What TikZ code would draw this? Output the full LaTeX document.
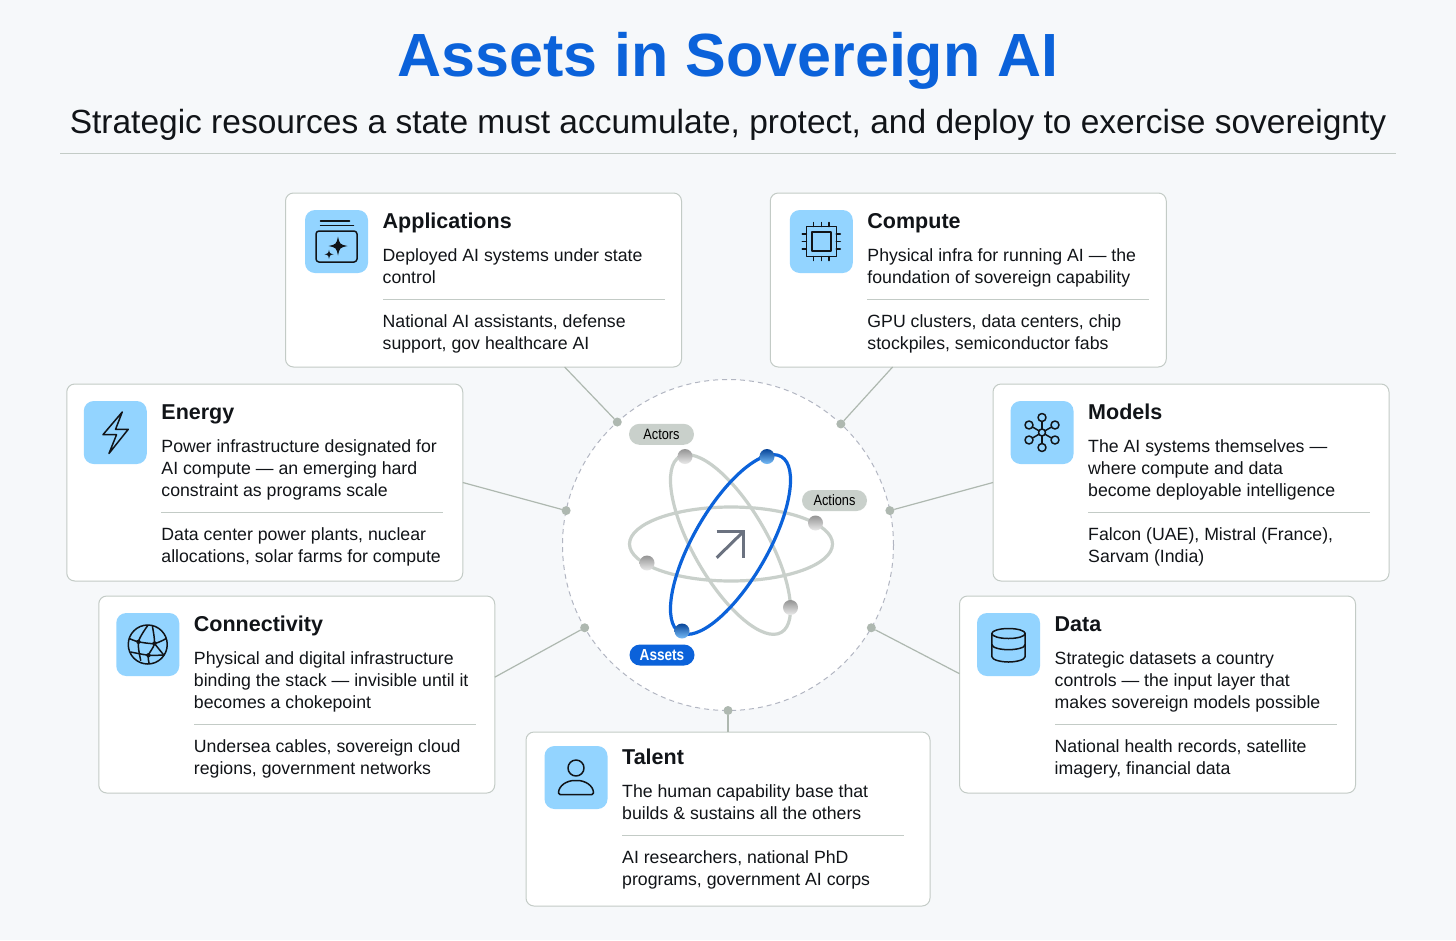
\documentclass[tikz,border=0pt]{standalone}
\usepackage{fontspec}
\setmainfont{Liberation Sans}
\newfontfamily\tagfont[FakeStretch=0.85]{Liberation Sans}
\usetikzlibrary{positioning, shapes.geometric}
\definecolor{pagebg}{HTML}{F6F8FA}
\definecolor{rulecolor}{HTML}{C3CBC6}
\definecolor{headblue}{HTML}{0B62DA}
\definecolor{iconblue}{HTML}{93D4FF}
\definecolor{tagsage}{HTML}{C9D0CB}
\definecolor{spokesage}{HTML}{AEB8B0}
\definecolor{dashgray}{HTML}{B2B6C2}
\definecolor{inkblack}{HTML}{111418}
\definecolor{arrowslate}{HTML}{6B7280}
\tikzset{
  assetcard/.style={rectangle, fill=white, draw=rulecolor, line width=1pt, rounded corners=8pt,
    minimum width=396pt, inner sep=0pt, outer sep=0pt},
  iconbox/.style={rectangle, fill=iconblue, rounded corners=10pt, minimum size=63pt,
    inner sep=0pt, outer sep=0pt},
  headtext/.style={font=\fontsize{21.5}{22}\selectfont\bfseries, text=inkblack, align=left, inner sep=0pt,
    text height=15.4pt, text depth=6.6pt},
  bodytext/.style={font=\fontsize{17.7}{22}\selectfont, text=inkblack, align=left, inner sep=0pt,
    execute at begin node=\strut, execute at end node=\strut},
  cardrule/.style={rectangle, fill=rulecolor, minimum width=282pt, minimum height=1pt, inner sep=0pt},
  hubdot/.style={circle, fill=spokesage, minimum size=9pt, inner sep=0pt, outer sep=0pt},
  spoke/.style={draw=spokesage, line width=1.2pt},
  orbit/.style={ellipse, draw=tagsage, line width=3.2pt, minimum width=203pt, minimum height=74pt,
    inner sep=0pt, outer sep=0pt},
  blueorbit/.style={orbit, draw=headblue},
  grayball/.style={circle, minimum size=15pt, inner sep=0pt, top color=black!42, bottom color=black!8},
  blueball/.style={circle, minimum size=15pt, inner sep=0pt, top color=headblue!70!black, bottom color=iconblue!80!headblue},
  tagpill/.style={rectangle, rounded corners=10.5pt, minimum width=65pt, minimum height=21pt,
    inner sep=0pt, fill=tagsage, text=black, font=\fontsize{15}{15}\selectfont\tagfont},
  iconink/.style={draw=inkblack, line width=1.5pt, line join=round, line cap=round},
  sparkicon/.pic={
    \draw[iconink] (-16,-20.5) -- (13,-20.5);
    \draw[iconink] (-16,-16) -- (17,-16);
    \draw[iconink, rounded corners=3pt] (-20.5,-10.5) rectangle (20.5,20.5);
    \foreach \cx/\cy/\r in {1.5/4.5/9.5, -7.5/12.8/4.5}
      \fill[inkblack] (\cx,\cy-\r) .. controls (\cx+.18*\r,\cy-.18*\r) .. (\cx+\r,\cy)
        .. controls (\cx+.18*\r,\cy+.18*\r) .. (\cx,\cy+\r)
        .. controls (\cx-.18*\r,\cy+.18*\r) .. (\cx-\r,\cy)
        .. controls (\cx-.18*\r,\cy-.18*\r) .. cycle;
  },
  chipicon/.pic={
    \draw[iconink] (-15,-15) rectangle (15,15);
    \draw[iconink] (-9.5,-9.5) rectangle (9.5,9.5);
    \foreach \p in {-7.7,0,7.7} {
      \draw[iconink] (\p,-15) -- (\p,-19);
      \draw[iconink] (\p,15) -- (\p,19);
      \draw[iconink] (-15,\p) -- (-19,\p);
      \draw[iconink] (15,\p) -- (19,\p);
    }
  },
  bolticon/.pic={
    \draw[iconink] (7,-20.5) -- (-12.3,2.2) -- (1.3,2.2) -- (-6.3,21) -- (13,-3.2) -- (0.3,-3.2) -- cycle;
  },
  globeicon/.pic={
    \draw[iconink] (0,0) circle (19.5pt);
    \draw[iconink] plot[smooth] coordinates {(0,-19) (-9.3,-2.7) (-7,16)};
    \draw[iconink] plot[smooth] coordinates {(4.7,-18) (6.7,-1) (0.7,10.7) (1.3,18.5)};
    \draw[iconink] plot[smooth] coordinates {(-18.5,-6) (-9.3,-2.7) (6.7,-1) (18.5,-6)};
    \draw[iconink] plot[smooth] coordinates {(-17,7.5) (0.7,10.7) (16,10.5)};
    \draw[iconink] (6.7,-1) -- (16,10.5);
    \foreach \p in {(-9.3,-2.7),(6.7,-1),(0.7,10.7)} \fill[inkblack] \p circle (2.2pt);
  },
  hubicon/.pic={
    \foreach \a in {90,30,-30,-90,-150,150} {
      \draw[iconink] (\a:3.5) -- (\a:11);
      \draw[iconink] (\a:15) circle (4pt);
    }
    \draw[iconink] (0,0) circle (3.5pt);
  },
  dataicon/.pic={
    \draw[iconink] (0,-11) ellipse [x radius=16.7pt, y radius=5pt];
    \draw[iconink] (-16.7,-11) -- (-16.7,12) .. controls (-16.7,15.5) and (-7,17.5) .. (0,17.5)
      .. controls (7,17.5) and (16.7,15.5) .. (16.7,12) -- (16.7,-11);
    \draw[iconink] (-16.7,0) .. controls (-16.7,3.5) and (-7,5.2) .. (0,5.2)
      .. controls (7,5.2) and (16.7,3.5) .. (16.7,0);
  },
  personicon/.pic={
    \draw[iconink] (0,-9.5) circle (8pt);
    \draw[iconink, rounded corners=1.5pt] (-17.5,17) .. controls (-17.5,8) and (-9,3) .. (0,3)
      .. controls (9,3) and (17.5,8) .. (17.5,17) -- cycle;
  },
}
\begin{document}
\begin{tikzpicture}[x=1pt, y=-1pt]
  \useasboundingbox (0,0) rectangle (1456,940);
  \fill[pagebg] (0,0) rectangle (1456,940);

  % header
  \node[anchor=base, inner sep=0pt, text=headblue, font=\fontsize{61}{61}\selectfont\bfseries]
    (maintitle) at (728,76) {Assets in Sovereign AI};
  \node[anchor=base, inner sep=0pt, text=inkblack, font=\fontsize{33.5}{34}\selectfont]
    (subtitle) at (728,133) {Strategic resources a state must accumulate, protect, and deploy to exercise sovereignty};
  \draw[draw=rulecolor, line width=1pt] (60,153.5) -- (1396,153.5);

  % hub
  \node[circle, fill=white, draw=dashgray, line width=1pt, dash pattern=on 5pt off 4pt,
        minimum size=331pt, inner sep=0pt, outer sep=0pt] (hubcircle) at (728,545) {};
  \node[hubdot] (appdot) at (hubcircle.132.6) {};
  \node[hubdot] (cmpdot) at (hubcircle.47.5) {};
  \node[hubdot] (engdot) at (hubcircle.168) {};
  \node[hubdot] (moddot) at (hubcircle.12) {};
  \node[hubdot] (condot) at (hubcircle.210) {};
  \node[hubdot] (datdot) at (hubcircle.330) {};
  \node[hubdot] (tlndot) at (hubcircle.270) {};

  \node[orbit] (flatorbit) at (731,544) {};
  \node[orbit, rotate=-60] (tiltorbit) at (730.5,544.5) {};
  \node[blueorbit, rotate=60] (assetorbit) at (730.5,544.5) {};
  \draw[draw=arrowslate, line width=3pt] (716.7,557.7) -- (743,532);
  \draw[draw=arrowslate, line width=3pt] (716.7,531.5) -- (743.5,531.5) -- (743.5,558);

  \node[grayball] (actorball) at (685,456.5) {};
  \node[grayball] (lowball) at (790.5,607.5) {};
  \node[grayball] (actionball) at (815.5,523) {};
  \node[grayball] (leftball) at (647,563) {};
  \node[blueball] (topball) at (767,456.5) {};
  \node[blueball] (assetball) at (682,631) {};
  \node[tagpill] (actortag) at (661.5,434.3) {Actors};
  \node[tagpill] (actiontag) at (834.5,500.5) {Actions};
  \node[tagpill, fill=headblue, text=white, font=\fontsize{16}{16}\selectfont\tagfont\bfseries]
    (assettag) at (662,655) {Assets};

  % applications
  \node[assetcard, minimum height=174pt] (appcard) at (483.5,280) {};
  \node[iconbox, below right=17pt and 19.5pt of appcard.north west] (appicon) {};
  \pic at (appicon.center) {sparkicon};
  \node[headtext, below right=2.6pt and 14.5pt of appicon.north east] (apphead) {Applications};
  \node[bodytext, below right=13.4pt and 0pt of apphead.south west] (appbody)
    {Deployed AI systems under state\\control};
  \node[cardrule, below right=8.4pt and 0pt of appbody.south west] (apprule) {};
  \node[bodytext, below right=14pt and 0pt of apprule.south west] (appuse)
    {National AI assistants, defense\\support, gov healthcare AI};

  % compute
  \node[assetcard, minimum height=174pt] (cmpcard) at (968.25,280) {};
  \node[iconbox, below right=17pt and 19.5pt of cmpcard.north west] (cmpicon) {};
  \pic at (cmpicon.center) {chipicon};
  \node[headtext, below right=2.6pt and 14.5pt of cmpicon.north east] (cmphead) {Compute};
  \node[bodytext, below right=13.4pt and 0pt of cmphead.south west] (cmpbody)
    {Physical infra for running AI --- the\\foundation of sovereign capability};
  \node[cardrule, below right=8.4pt and 0pt of cmpbody.south west] (cmprule) {};
  \node[bodytext, below right=14pt and 0pt of cmprule.south west] (cmpuse)
    {GPU clusters, data centers, chip\\stockpiles, semiconductor fabs};

  % energy
  \node[assetcard, minimum height=197pt] (engcard) at (264.75,482.5) {};
  \node[iconbox, below right=17pt and 17pt of engcard.north west] (engicon) {};
  \pic at (engicon.center) {bolticon};
  \node[headtext, below right=2.6pt and 14.5pt of engicon.north east] (enghead) {Energy};
  \node[bodytext, below right=13.4pt and 0pt of enghead.south west] (engbody)
    {Power infrastructure designated for\\AI compute --- an emerging hard\\constraint as programs scale};
  \node[cardrule, below right=8.4pt and 0pt of engbody.south west] (engrule) {};
  \node[bodytext, below right=14pt and 0pt of engrule.south west] (enguse)
    {Data center power plants, nuclear\\allocations, solar farms for compute};

  % models
  \node[assetcard, minimum height=197pt] (modcard) at (1191,482.5) {};
  \node[iconbox, below right=17pt and 17.5pt of modcard.north west] (modicon) {};
  \pic at (modicon.center) {hubicon};
  \node[headtext, below right=2.6pt and 14.5pt of modicon.north east] (modhead) {Models};
  \node[bodytext, below right=13.4pt and 0pt of modhead.south west] (modbody)
    {The AI systems themselves ---\\where compute and data\\become deployable intelligence};
  \node[cardrule, below right=8.4pt and 0pt of modbody.south west] (modrule) {};
  \node[bodytext, below right=14pt and 0pt of modrule.south west] (moduse)
    {Falcon (UAE), Mistral (France),\\Sarvam (India)};

  % connectivity
  \node[assetcard, minimum height=197pt] (concard) at (296.75,694.5) {};
  \node[iconbox, below right=17pt and 17.5pt of concard.north west] (conicon) {};
  \pic at (conicon.center) {globeicon};
  \node[headtext, below right=2.6pt and 14.5pt of conicon.north east] (conhead) {Connectivity};
  \node[bodytext, below right=13.4pt and 0pt of conhead.south west] (conbody)
    {Physical and digital infrastructure\\binding the stack --- invisible until it\\becomes a chokepoint};
  \node[cardrule, below right=8.4pt and 0pt of conbody.south west] (conrule) {};
  \node[bodytext, below right=14pt and 0pt of conrule.south west] (conuse)
    {Undersea cables, sovereign cloud\\regions, government networks};

  % data
  \node[assetcard, minimum height=197pt] (datcard) at (1157.5,694.5) {};
  \node[iconbox, below right=17pt and 17.5pt of datcard.north west] (daticon) {};
  \pic at (daticon.center) {dataicon};
  \node[headtext, below right=2.6pt and 14.5pt of daticon.north east] (dathead) {Data};
  \node[bodytext, below right=13.4pt and 0pt of dathead.south west] (datbody)
    {Strategic datasets a country\\controls --- the input layer that\\makes sovereign models possible};
  \node[cardrule, below right=8.4pt and 0pt of datbody.south west] (datrule) {};
  \node[bodytext, below right=14pt and 0pt of datrule.south west] (datuse)
    {National health records, satellite\\imagery, financial data};

  % talent
  \node[assetcard, minimum width=404pt, minimum height=174pt] (tlncard) at (728,819) {};
  \node[iconbox, below right=14pt and 18.5pt of tlncard.north west] (tlnicon) {};
  \pic at (tlnicon.center) {personicon};
  \node[headtext, below right=2.6pt and 14.5pt of tlnicon.north east] (tlnhead) {Talent};
  \node[bodytext, below right=13.4pt and 0pt of tlnhead.south west] (tlnbody)
    {The human capability base that\\builds \& sustains all the others};
  \node[cardrule, below right=8.4pt and 0pt of tlnbody.south west] (tlnrule) {};
  \node[bodytext, below right=14pt and 0pt of tlnrule.south west] (tlnuse)
    {AI researchers, national PhD\\programs, government AI corps};

  % spokes
  \draw[spoke] (appdot) -- (appcard.-47.6);
  \draw[spoke] (cmpdot) -- (cmpcard.-131.6);
  \draw[spoke] (engdot) -- (engcard.east);
  \draw[spoke] (moddot) -- (modcard.west);
  \draw[spoke] (condot) -- (concard.5.3);
  \draw[spoke] (datdot) -- (datcard.174.6);
  \draw[spoke] (tlndot) -- (tlncard.north);
\end{tikzpicture}
\end{document}
